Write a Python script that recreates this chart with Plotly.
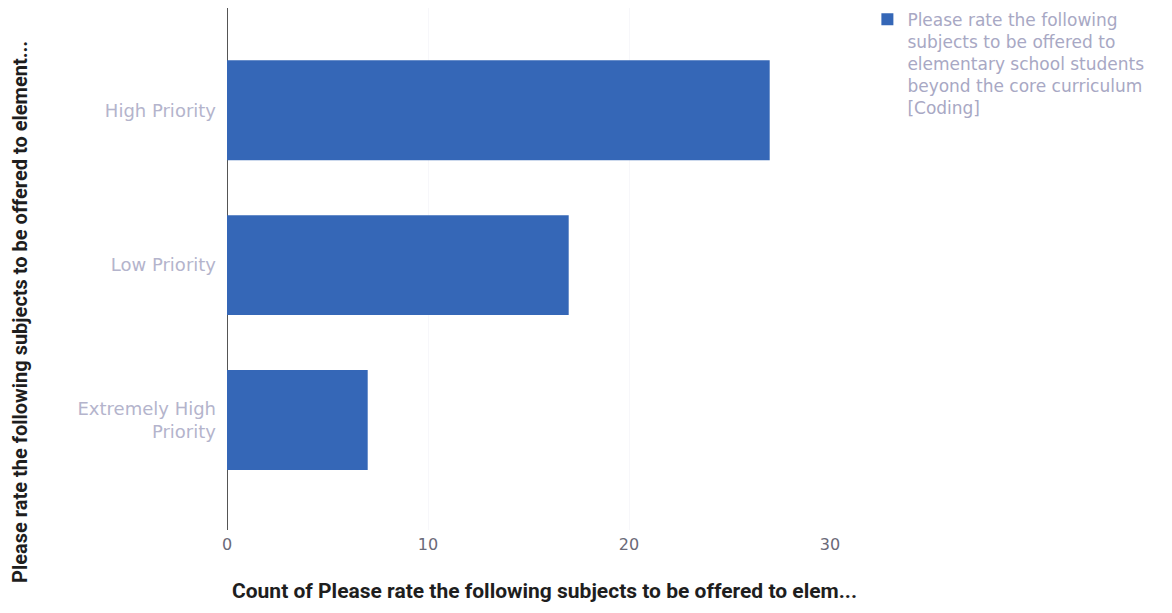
import plotly.graph_objects as go

categories = ["Extremely High<br>Priority", "Low Priority", "High Priority"]
counts = [7, 17, 27]
series_name = ("Please rate the following<br>subjects to be offered to<br>"
               "elementary school students<br>beyond the core curriculum<br>[Coding]")
x_ticks = [0, 10, 20, 30]
x_title = "Count of Please rate the following subjects to be offered to elem..."
y_title = "Please rate the following subjects to be offered to element..."

fig = go.Figure()
fig.add_trace(go.Bar(
    y=categories, x=counts, orientation="h", name=series_name,
    marker=dict(color="#3567b7", line=dict(width=0)), width=0.645,
    showlegend=True,
))

fig.update_layout(
    width=1156, height=597,
    margin=dict(l=219, r=334, t=0, b=75, autoexpand=False),
    plot_bgcolor="white", paper_bgcolor="white",
    font=dict(family="DejaVu Sans, Roboto, sans-serif"),
    legend=dict(x=1.062, y=1.012, xanchor="left", yanchor="top", valign="top",
                font=dict(family="DejaVu Sans", size=17, color="#a8a8c4"),
                tracegroupgap=0),
    xaxis=dict(range=[0, 30], tickvals=x_ticks, showgrid=True,
               gridcolor="#f7f7fa", zeroline=True, zerolinecolor="#555555",
               zerolinewidth=1, showline=False, automargin=False,
               tickfont=dict(family="DejaVu Sans", size=16, color="#6a6a78"),
               ticks="outside", ticklen=0),
    yaxis=dict(range=[-0.71, 2.66], showgrid=False, showline=False, automargin=False,
               tickfont=dict(family="DejaVu Sans", size=18, color="#b4b4cc"),
               ticklabelstandoff=10),
)

fig.add_annotation(text="<b>" + x_title + "</b>", xref="paper", yref="paper",
                   x=0.526, y=-0.116, xanchor="center", yanchor="middle",
                   showarrow=False,
                   font=dict(family="Liberation Sans Narrow, Roboto", size=21, color="#1e1e1e"))
fig.add_annotation(text="<b>" + y_title + "</b>", xref="paper", yref="paper",
                   x=-0.343, y=0.418, xanchor="center", yanchor="middle",
                   textangle=-90, showarrow=False,
                   font=dict(family="Liberation Sans Narrow, Roboto", size=20, color="#1e1e1e"))

fig.write_html("out.html")
